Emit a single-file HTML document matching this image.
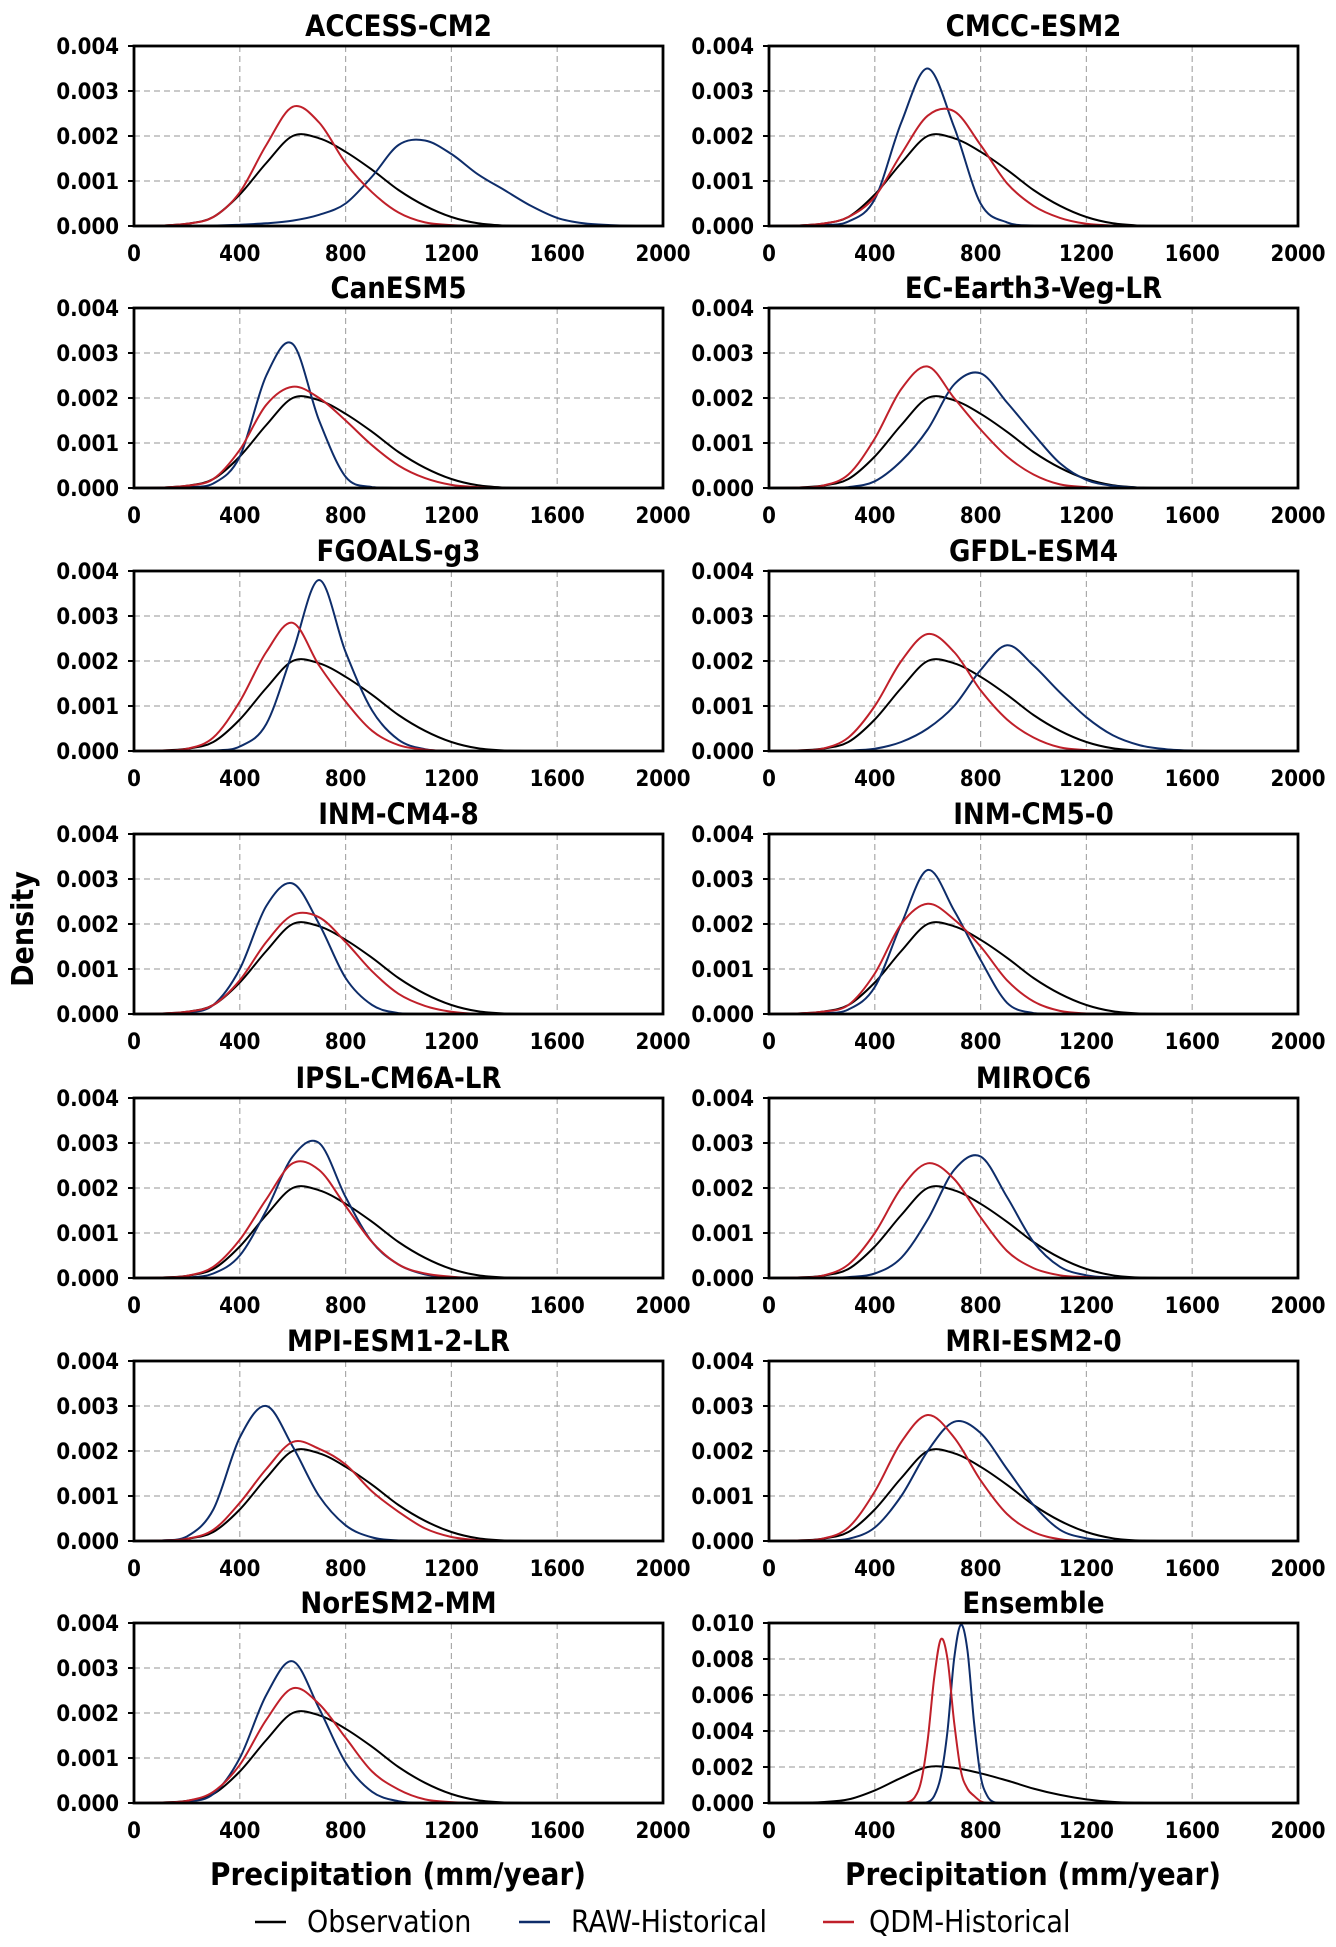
<!DOCTYPE html>
<html><head><meta charset="utf-8">
<style>
html,body{margin:0;padding:0;background:#fff;}
svg{display:block;font-family:"DejaVu Sans Condensed","DejaVu Sans","Liberation Sans",sans-serif;font-stretch:condensed;}
</style></head>
<body>
<svg id="fig" width="1336" height="1947" viewBox="0 0 1336 1947" xmlns="http://www.w3.org/2000/svg">
<text x="0" y="0" transform="translate(33,929) rotate(-90)" text-anchor="middle" font-weight="bold" font-size="30">Density</text>
<text x="398" y="1885" text-anchor="middle" font-weight="bold" font-size="31">Precipitation (mm/year)</text>
<text x="1033" y="1885" text-anchor="middle" font-weight="bold" font-size="31">Precipitation (mm/year)</text>
<g font-size="30">
<g><line x1="255" y1="1922" x2="286" y2="1922" stroke="#000" stroke-width="2.5"/><text x="307" y="1932">Observation</text></g>
<g><line x1="519" y1="1922" x2="550" y2="1922" stroke="#0e2d6a" stroke-width="2.5"/><text x="571" y="1932">RAW-Historical</text></g>
<g><line x1="823" y1="1922" x2="854" y2="1922" stroke="#c0202a" stroke-width="2.5"/><text x="869" y="1932">QDM-Historical</text></g>
</g>
</svg>
<script>
// x grid (mm/year) shared by regular panels, density values in 1e-3 units
const xGrid = [0,100,200,300,400,500,600,700,800,900,1000,1100,1200,1300,1400,1500,1600,1700,1800,1900,2000];
const obsValues = [0,0.01,0.05,0.2,0.7,1.4,2.0,1.95,1.65,1.25,0.8,0.45,0.2,0.06,0.01,0,0,0,0,0,0];
const panelNames = ["ACCESS-CM2","CMCC-ESM2","CanESM5","EC-Earth3-Veg-LR","FGOALS-g3","GFDL-ESM4","INM-CM4-8","INM-CM5-0","IPSL-CM6A-LR","MIROC6","MPI-ESM1-2-LR","MRI-ESM2-0","NorESM2-MM"];
const rawValues = [
[0,0,0,0.01,0.03,0.06,0.12,0.25,0.5,1.1,1.8,1.9,1.6,1.15,0.8,0.45,0.18,0.06,0.02,0,0],
[0,0,0.02,0.1,0.6,2.3,3.5,2.2,0.5,0.08,0.01,0,0,0,0,0,0,0,0,0,0],
[0,0,0.02,0.1,0.7,2.5,3.2,1.5,0.25,0.02,0,0,0,0,0,0,0,0,0,0,0],
[0,0,0,0.02,0.15,0.6,1.3,2.3,2.55,1.9,1.2,0.55,0.18,0.05,0.01,0,0,0,0,0,0],
[0,0,0,0.01,0.1,0.6,2.2,3.8,2.2,0.9,0.25,0.04,0,0,0,0,0,0,0,0,0],
[0,0,0,0.01,0.05,0.2,0.5,1.0,1.8,2.35,1.9,1.3,0.75,0.35,0.13,0.04,0.01,0,0,0,0],
[0,0,0.03,0.2,1.0,2.4,2.9,2.0,0.8,0.2,0.02,0,0,0,0,0,0,0,0,0,0],
[0,0,0.02,0.1,0.6,2.0,3.2,2.3,1.2,0.25,0.02,0,0,0,0,0,0,0,0,0,0],
[0,0,0.01,0.1,0.5,1.5,2.7,3.0,1.8,0.8,0.3,0.08,0.02,0,0,0,0,0,0,0,0],
[0,0,0,0.02,0.1,0.45,1.3,2.4,2.7,1.8,0.8,0.25,0.06,0.01,0,0,0,0,0,0,0],
[0,0.01,0.1,0.7,2.3,3.0,2.1,1.0,0.35,0.08,0.01,0,0,0,0,0,0,0,0,0,0],
[0,0,0.01,0.05,0.3,1.0,2.0,2.65,2.4,1.6,0.8,0.25,0.06,0.01,0,0,0,0,0,0,0],
[0,0,0.03,0.2,1.0,2.4,3.15,2.1,0.9,0.25,0.04,0,0,0,0,0,0,0,0,0,0]
];
const qdmValues = [
[0,0.01,0.05,0.2,0.75,1.8,2.65,2.3,1.4,0.75,0.3,0.08,0.02,0,0,0,0,0,0,0,0],
[0,0.01,0.05,0.2,0.65,1.6,2.45,2.55,1.8,0.95,0.45,0.18,0.05,0.01,0,0,0,0,0,0,0],
[0,0.01,0.05,0.2,0.85,1.85,2.25,2.0,1.5,0.95,0.5,0.22,0.07,0.02,0,0,0,0,0,0,0],
[0,0.01,0.05,0.3,1.1,2.2,2.7,2.0,1.3,0.7,0.3,0.08,0.02,0,0,0,0,0,0,0,0],
[0,0.01,0.05,0.3,1.1,2.2,2.85,1.9,1.1,0.45,0.13,0.03,0,0,0,0,0,0,0,0,0],
[0,0.01,0.05,0.3,1.0,2.0,2.6,2.2,1.35,0.7,0.3,0.08,0.02,0,0,0,0,0,0,0,0],
[0,0.01,0.05,0.2,0.75,1.6,2.2,2.15,1.6,0.95,0.45,0.18,0.05,0,0,0,0,0,0,0,0],
[0,0.01,0.05,0.2,0.9,2.0,2.45,2.1,1.5,0.75,0.28,0.07,0.01,0,0,0,0,0,0,0,0],
[0,0.01,0.05,0.25,0.85,1.75,2.55,2.4,1.6,0.8,0.3,0.1,0.03,0,0,0,0,0,0,0,0],
[0,0.01,0.05,0.3,1.0,2.0,2.55,2.2,1.35,0.6,0.22,0.06,0.02,0,0,0,0,0,0,0,0],
[0,0.01,0.05,0.25,0.85,1.6,2.2,2.05,1.7,1.1,0.65,0.28,0.09,0.02,0,0,0,0,0,0,0],
[0,0.01,0.05,0.3,1.1,2.2,2.8,2.3,1.35,0.6,0.2,0.04,0,0,0,0,0,0,0,0,0],
[0,0.01,0.05,0.25,0.85,1.85,2.55,2.2,1.45,0.7,0.3,0.08,0.02,0,0,0,0,0,0,0,0]
];
const ensGrid = [500,525,550,575,600,625,650,675,700,725,750,775,800,825,850,875,900];
const ensRaw = [0,0,0,0,0.05,0.4,1.5,4.0,8.0,9.9,8.5,4.5,1.5,0.4,0.05,0,0];
const ensQdm = [0,0.05,0.3,1.2,3.5,7.0,9.1,8.0,4.5,1.8,0.8,0.4,0.1,0,0,0,0];
const xTicks = [0,400,800,1200,1600,2000];
const yTicksSmall = ["0.000","0.001","0.002","0.003","0.004"];
const yTicksEns = ["0.000","0.002","0.004","0.006","0.008","0.010"];

const NS="http://www.w3.org/2000/svg";
const fig=document.getElementById('fig');
const colLeft=[134,769], axW=529, axH=180;
const rowTop=[46,308,571,834,1098,1361,1623];
function mk(tag,attrs,parent){const e=document.createElementNS(NS,tag);for(const k in attrs)e.setAttribute(k,attrs[k]);(parent||fig).appendChild(e);return e;}
function pathFrom(xs,ys,sx,sy,y0){
  const p=xs.map((x,i)=>[sx(x),sy(ys[i])]);
  let d="M"+p[0][0].toFixed(1)+","+p[0][1].toFixed(1);
  for(let i=0;i<p.length-1;i++){
    const p0=p[Math.max(0,i-1)],p1=p[i],p2=p[i+1],p3=p[Math.min(p.length-1,i+2)];
    let c1y=p1[1]+(p2[1]-p0[1])/6, c2y=p2[1]-(p3[1]-p1[1])/6;
    c1y=Math.min(c1y,y0); c2y=Math.min(c2y,y0);
    d+=" C"+(p1[0]+(p2[0]-p0[0])/6).toFixed(1)+","+c1y.toFixed(1)+" "+(p2[0]-(p3[0]-p1[0])/6).toFixed(1)+","+c2y.toFixed(1)+" "+p2[0].toFixed(1)+","+p2[1].toFixed(1);
  }
  return d;
}
function panel(idx,name,yLabels,ymax,series){
  const L=colLeft[idx%2], T=rowTop[Math.floor(idx/2)];
  const g=mk('g',{});
  
  
  const sx=v=>L+v/2000*axW, sy=v=>T+axH-v/ymax*axH;
  const t=mk('text',{x:L+axW/2,y:T-10,'text-anchor':'middle','font-weight':'bold','font-size':29},g);
  t.textContent=name;
  
  
  const n=yLabels.length-1;
  for(let i=0;i<=n;i++){
    const y=T+axH-i/n*axH;
    if(i>0&&i<n) mk('line',{x1:L,x2:L+axW,y1:y,y2:y,stroke:'#aaa','stroke-width':1.2,'stroke-dasharray':'6,4'},g);
    mk('line',{x1:L-6,x2:L,y1:y,y2:y,stroke:'#000','stroke-width':2},g);
    const lb=mk('text',{x:L-15,y:y+8,'text-anchor':'end','font-weight':'bold','font-size':22},g);
    lb.textContent=yLabels[i];
    
    
  }
  xTicks.forEach(v=>{
    const x=sx(v);
    if(v>0&&v<2000) mk('line',{x1:x,x2:x,y1:T,y2:T+axH,stroke:'#aaa','stroke-width':1.2,'stroke-dasharray':'6,4'},g);
    const lb=mk('text',{x:x,y:T+axH+35,'text-anchor':'middle','font-weight':'bold','font-size':22},g);
    lb.textContent=v;
    
    
  });
  series.forEach(s=>{
    const p=mk('path',{d:pathFrom(s.x,s.y,sx,sy,T+axH),fill:'none',stroke:s.c,'stroke-width':2},g);
    
    
  });
  const fr=mk('rect',{x:L,y:T,width:axW,height:axH,fill:'none',stroke:'#000','stroke-width':2.8},g);
  
  
}
panelNames.forEach((nm,i)=>{
  panel(i,nm,yTicksSmall,4,[
    {x:xGrid,y:obsValues,c:'#000',n:'observation-line'},
    {x:xGrid,y:rawValues[i],c:'#0e2d6a',n:'raw-historical-line'},
    {x:xGrid,y:qdmValues[i],c:'#c0202a',n:'qdm-historical-line'}
  ]);
});
panel(13,"Ensemble",yTicksEns,10,[
  {x:xGrid,y:obsValues,c:'#000',n:'observation-line'},
  {x:ensGrid,y:ensRaw,c:'#0e2d6a',n:'raw-historical-line'},
  {x:ensGrid,y:ensQdm,c:'#c0202a',n:'qdm-historical-line'}
]);
</script>
</body></html>
